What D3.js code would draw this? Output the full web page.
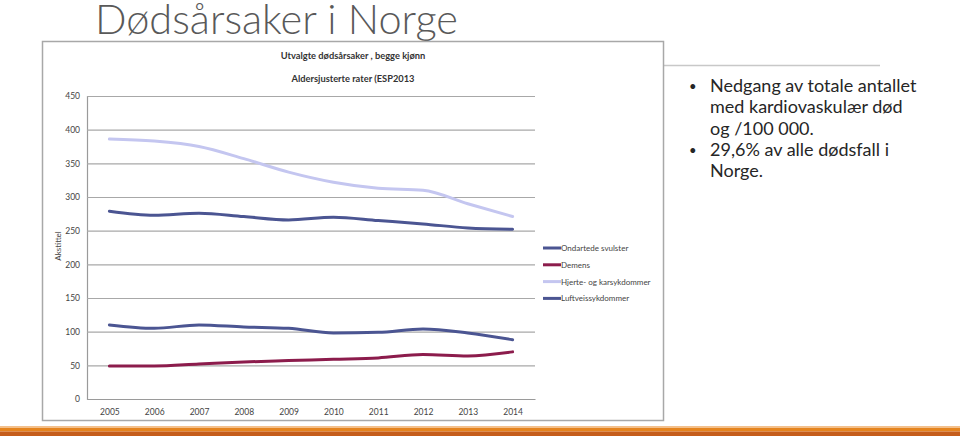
<!DOCTYPE html>
<html><head><meta charset="utf-8">
<script src="https://cdn.jsdelivr.net/npm/d3@7"></script>
<style>body{margin:0;background:#fff;overflow:hidden}svg{display:block}</style>
</head><body>
<script>
const years = [2005,2006,2007,2008,2009,2010,2011,2012,2013,2014];
const ondartede = [279,273,276,271,266,270,265,260,254,252];
const demens = [49,49,52,55,57,59,61,66,64,70];
const hjerte = [386,383,375,357,337,322,313,310,290,271];
const luftveis = [110,105,110,107,105,98,99,104,98,88];
const yTicks = [0,50,100,150,200,250,300,350,400,450];
const seriesNames = ["Ondartede svulster","Demens","Hjerte- og karsykdommer","Luftveissykdommer"];
const seriesColors = ["#4B5592","#8C1C4C","#C4C6F0","#4B5592"];
const bullets = [["Nedgang av totale antallet","med kardiovaskulær død","og /100 000."],["29,6% av alle dødsfall  i","Norge."]];

const W=960,H=436;
const svg=d3.select("body").append("svg").attr("width",W).attr("height",H);

// slide title
svg.append("text").attr("x",95).attr("y",34).attr("font-family","Lato").attr("font-weight",300)
  .attr("font-size",41.5).attr("fill","#595959").text("Dødsårsaker i Norge");

// separator line
svg.append("line").attr("x1",664).attr("x2",880).attr("y1",65.5).attr("y2",65.5).attr("stroke","#C8C8C8").attr("stroke-width",1.5);

// chart frame
svg.append("rect").attr("x",42.5).attr("y",41.5).attr("width",621).attr("height",379).attr("fill","#fff").attr("stroke","#A8A8A8").attr("stroke-width",1.5);

const x=d3.scalePoint().domain(years).range([87,535]).padding(0.5);
const y=d3.scaleLinear().domain([0,450]).range([399,96]);

const g=svg.append("g");
const yAxis=d3.axisLeft(y).tickValues(yTicks).tickSize(-(535-87)).tickPadding(7);
const ya=g.append("g").attr("transform","translate(87,0)").call(yAxis);
ya.select(".domain").attr("stroke","#9A9A9A").attr("stroke-width",1.2);
ya.selectAll(".tick line").attr("stroke","#A8A8A8").attr("stroke-width",1.2);
ya.selectAll(".tick text").attr("font-family","Lato").attr("font-size",8.5).attr("fill","#444");

const xAxis=d3.axisBottom(x).tickSize(0).tickPadding(10);
const xa=g.append("g").attr("transform","translate(0,399)").call(xAxis);
xa.select(".domain").attr("stroke","#9A9A9A").attr("stroke-width",1.2);
xa.selectAll(".tick text").attr("font-family","Lato").attr("font-size",8.5).attr("fill","#444");

g.append("text").attr("x",353).attr("y",59).attr("text-anchor","middle").attr("font-family","Lato").attr("font-weight",700)
  .attr("font-size",9.3).attr("fill","#333").text("Utvalgte dødsårsaker , begge kjønn");
g.append("text").attr("x",353).attr("y",82).attr("text-anchor","middle").attr("font-family","Lato").attr("font-weight",700)
  .attr("font-size",9.3).attr("fill","#333").text("Aldersjusterte rater (ESP2013");
g.append("text").attr("transform","translate(61,246) rotate(-90)").attr("text-anchor","middle").attr("font-family","Lato")
  .attr("font-size",8).attr("fill","#444").text("Akstittel");

const data=[ondartede,demens,hjerte,luftveis];
const line=d3.line().x((d,i)=>x(years[i])).y(d=>y(d)).curve(d3.curveMonotoneX);
data.forEach((s,k)=>{
  g.append("path").datum(s).attr("d",line).attr("fill","none").attr("stroke",seriesColors[k])
    .attr("stroke-width",3).attr("stroke-linejoin","round").attr("stroke-linecap","round");
});

const lg=g.append("g");
seriesNames.forEach((n,k)=>{
  const yy=248+k*16.8;
  lg.append("line").attr("x1",543).attr("x2",561).attr("y1",yy).attr("y2",yy).attr("stroke",seriesColors[k]).attr("stroke-width",3);
  lg.append("text").attr("x",561).attr("y",yy+3).attr("font-family","Lato").attr("font-size",8).attr("fill","#444").text(n);
});

let ly=92;
bullets.forEach(b=>{
  svg.append("text").attr("x",689).attr("y",ly-1).attr("font-family","Lato").attr("font-size",13).attr("fill","#262626").text("•");
  b.forEach(t=>{
    svg.append("text").attr("x",710).attr("y",ly).attr("font-family","Lato").attr("font-size",18).attr("fill","#262626").text(t);
    ly+=21.3;
  });
});

svg.append("rect").attr("x",0).attr("y",426).attr("width",W).attr("height",2).attr("fill","#F3C08C");
svg.append("rect").attr("x",0).attr("y",428).attr("width",W).attr("height",3.5).attr("fill","#E5841F");
svg.append("rect").attr("x",0).attr("y",431.5).attr("width",W).attr("height",4.5).attr("fill","#C55D1C");
</script>
</body></html>
